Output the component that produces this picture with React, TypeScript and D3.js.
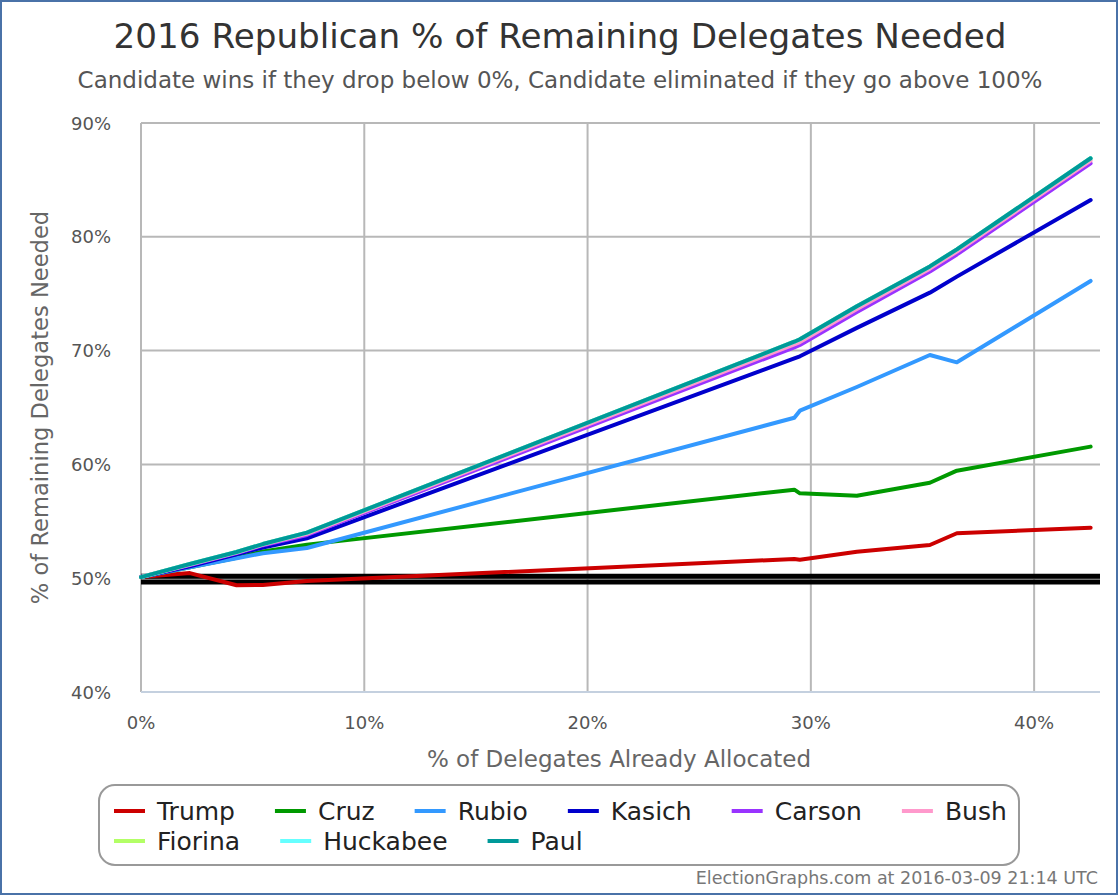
import React from "react";
import * as d3 from "d3";

// % of delegates already allocated (x positions of each update)
const xAllocated = [0, 2.19, 4.28, 5.46, 7.43, 29.26, 29.51, 32.06, 35.33, 36.54, 42.53];

// % of remaining delegates needed, per candidate
const trump = [50.1, 50.45, 49.38, 49.4, 49.75, 51.69, 51.62, 52.33, 52.92, 53.95, 54.44];
const cruz = [50.1, 50.95, 51.8, 52.35, 52.95, 57.78, 57.46, 57.25, 58.39, 59.45, 61.56];
const rubio = [50.1, 50.95, 51.75, 52.2, 52.65, 64.1, 64.72, 66.8, 69.61, 68.97, 76.12];
const kasich = [50.1, 51.05, 52.1, 52.7, 53.5, 69.32, 69.5, 72.0, 75.09, 76.5, 83.23];
const carson = [50.1, 51.15, 52.2, 52.9, 53.8, 70.29, 70.5, 73.4, 76.95, 78.45, 86.46];
const bush = [50.1, 51.2, 52.25, 52.95, 53.9, 70.55, 70.75, 73.65, 77.2, 78.7, 86.7];
const fiorina = [50.1, 51.25, 52.3, 53.0, 54.0, 70.78, 71.0, 73.9, 77.4, 78.9, 86.9];
const huckabee = [50.1, 51.25, 52.3, 53.0, 54.0, 70.78, 71.0, 73.9, 77.4, 78.9, 86.9];
const paul = [50.1, 51.25, 52.3, 53.0, 54.0, 70.78, 71.0, 73.9, 77.4, 78.9, 86.9];

const candidates = ["Trump", "Cruz", "Rubio", "Kasich", "Carson", "Bush", "Fiorina", "Huckabee", "Paul"];
const seriesValues = [trump, cruz, rubio, kasich, carson, bush, fiorina, huckabee, paul];
const colors = ["#cc0000", "#009900", "#3399ff", "#0000cc", "#9933ff", "#ff99cc", "#b3ff66", "#66ffff", "#009999"];

// Black reference band around 50%
const referenceLines = [50.17, 49.67];

const yTicks = [40, 50, 60, 70, 80, 90];
const xTicks = [0, 10, 20, 30, 40];

const FONT = "'DejaVu Sans', sans-serif";
const LEGEND_FONT = 25;

export default function App() {
  const W = 1120;
  const H = 896;
  const left = 141;
  const right = 1100;
  const top = 123;
  const bottom = 692;

  const x = d3.scaleLinear().domain([0, 42.95]).range([left, right]);
  const y = d3.scaleLinear().domain([40, 90]).range([bottom, top]);

  const line = d3
    .line<[number, number]>()
    .x((d) => x(d[0]))
    .y((d) => y(d[1]));

  // legend flow layout
  const measure = (() => {
    const c = typeof document !== "undefined" ? document.createElement("canvas").getContext("2d") : null;
    return (t: string) => {
      if (!c) return t.length * 14;
      c.font = `${LEGEND_FONT}px ${FONT}`;
      return c.measureText(t).width;
    };
  })();
  const legendLeft = 114;
  const legendRight = 1010;
  const legendItems: { name: string; color: string; x: number; row: number }[] = [];
  {
    let cx = legendLeft;
    let row = 0;
    candidates.forEach((name, i) => {
      const w = 43 + measure(name) + 40;
      if (cx + 43 + measure(name) > legendRight) {
        row += 1;
        cx = legendLeft;
      }
      legendItems.push({ name, color: colors[i], x: cx, row });
      cx += w;
    });
  }

  return (
    <svg
      width={W}
      height={H}
      style={{ position: "absolute", left: 0, top: 0, background: "#fff" }}
      fontFamily={FONT}
    >
      <rect x={0} y={0} width={W} height={H} fill="#fff" />
      <rect x={1} y={1} width={1116} height={893} fill="none" stroke="#4a72a8" strokeWidth={2} />

      <text x={560} y={48} textAnchor="middle" fontSize={34.2} fill="#333">
        2016 Republican % of Remaining Delegates Needed
      </text>
      <text x={560} y={88} textAnchor="middle" fontSize={23} fill="#555">
        Candidate wins if they drop below 0%, Candidate eliminated if they go above 100%
      </text>

      {/* grid */}
      {yTicks.map((t) => (
        <line key={"gy" + t} x1={left} x2={right} y1={y(t)} y2={y(t)} stroke="#b8b8b8" strokeWidth={2} />
      ))}
      {xTicks.map((t) => (
        <line key={"gx" + t} x1={x(t)} x2={x(t)} y1={top} y2={bottom} stroke="#b8b8b8" strokeWidth={2} />
      ))}
      <line x1={left} x2={right} y1={bottom} y2={bottom} stroke="#c4d0df" strokeWidth={2} />

      {/* tick labels */}
      {yTicks.map((t) => (
        <text key={"ty" + t} x={111} y={y(t) + 6.5} textAnchor="end" fontSize={18} fill="#555">
          {t}%
        </text>
      ))}
      {xTicks.map((t) => (
        <text key={"tx" + t} x={x(t)} y={729} textAnchor="middle" fontSize={18} fill="#555">
          {t}%
        </text>
      ))}

      <text
        transform={`translate(48, ${(top + bottom) / 2}) rotate(-90)`}
        textAnchor="middle"
        fontSize={22.6}
        fill="#666"
      >
        % of Remaining Delegates Needed
      </text>
      <text x={619} y={767} textAnchor="middle" fontSize={23} fill="#666">
        % of Delegates Already Allocated
      </text>

      {/* reference band */}
      {referenceLines.map((v, i) => (
        <line key={"ref" + i} x1={left} x2={right} y1={y(v)} y2={y(v)} stroke="#000" strokeWidth={5} />
      ))}

      {/* series */}
      {seriesValues.map((vals, i) => (
        <path
          key={candidates[i]}
          d={line(vals.map((v, j) => [xAllocated[j], v] as [number, number])) || ""}
          fill="none"
          stroke={colors[i]}
          strokeWidth={4}
          strokeLinejoin="round"
          strokeLinecap="round"
        />
      ))}

      {/* legend */}
      <rect x={99} y={785} width={920} height={80} rx={16} ry={16} fill="#fff" stroke="#999" strokeWidth={2} />
      {legendItems.map((it) => {
        const ly = 811 + it.row * 30;
        return (
          <g key={"lg" + it.name}>
            <line x1={it.x} x2={it.x + 31} y1={ly} y2={ly} stroke={it.color} strokeWidth={4} />
            <text x={it.x + 43} y={ly + 9} fontSize={LEGEND_FONT} fill="#222">
              {it.name}
            </text>
          </g>
        );
      })}

      <text x={1098} y={884} textAnchor="end" fontSize={17.5} fill="#777">
        ElectionGraphs.com at 2016-03-09 21:14 UTC
      </text>
    </svg>
  );
}
